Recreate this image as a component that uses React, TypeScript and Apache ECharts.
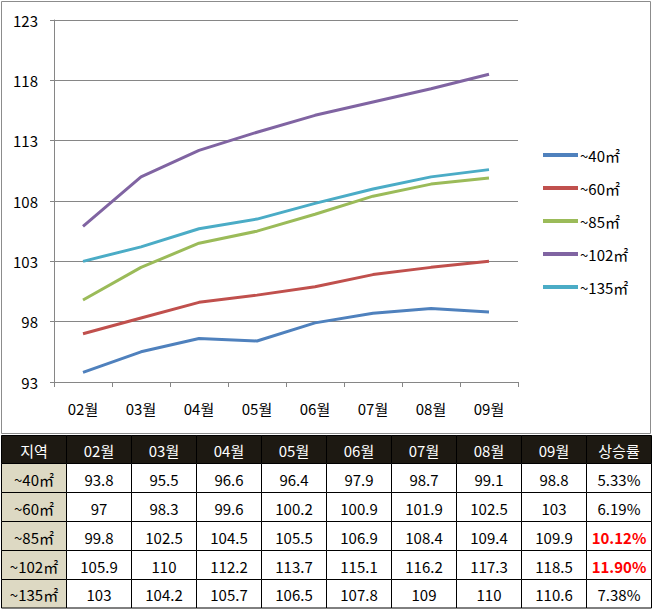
import React, { useEffect, useRef } from "react";
import * as echarts from "echarts";

const months = ["02월", "03월", "04월", "05월", "06월", "07월", "08월", "09월"];
const seriesNames = ["~40㎡", "~60㎡", "~85㎡", "~102㎡", "~135㎡"];
const s40 = [93.8, 95.5, 96.6, 96.4, 97.9, 98.7, 99.1, 98.8];
const s60 = [97, 98.3, 99.6, 100.2, 100.9, 101.9, 102.5, 103];
const s85 = [99.8, 102.5, 104.5, 105.5, 106.9, 108.4, 109.4, 109.9];
const s102 = [105.9, 110, 112.2, 113.7, 115.1, 116.2, 117.3, 118.5];
const s135 = [103, 104.2, 105.7, 106.5, 107.8, 109, 110, 110.6];
const rates = ["5.33%", "6.19%", "10.12%", "11.90%", "7.38%"];
const highlighted = [false, false, true, true, false];
const headerFirst = "지역";
const headerLast = "상승률";
const colors = ["#4F81BD", "#C0504D", "#9BBB59", "#8064A2", "#4BACC6"];

const FONT = "'Noto Sans CJK KR', 'Noto Sans', sans-serif";

function buildTable(): any[] {
  const allSeries = [s40, s60, s85, s102, s135];
  const colX = [1.5, 66.5, 131.5, 196.5, 261.5, 326.5, 391.5, 456.5, 521.5, 586.5, 651.5];
  const rowY = [435.5, 463.5, 492.5, 521.5, 550.5, 579.5, 608];
  const els: any[] = [];
  const header = [headerFirst, ...months, headerLast];
  for (let c = 0; c < header.length; c++) {
    const x = colX[c];
    const w = colX[c + 1] - colX[c];
    const y = rowY[0];
    const h = rowY[1] - rowY[0];
    els.push({
      type: "rect",
      shape: { x, y, width: w, height: h },
      style: { fill: "#1D1912", stroke: "#000", lineWidth: 1 },
      z: 10,
    });
    els.push({
      type: "text",
      x: x + w / 2,
      y: y + h / 2 + 1,
      style: {
        text: header[c],
        fill: "#FFFFFF",
        font: `15px ${FONT}`,
        align: "center",
        verticalAlign: "middle",
      },
      z: 11,
    });
  }
  for (let r = 0; r < allSeries.length; r++) {
    const y = rowY[r + 1];
    const h = rowY[r + 2] - rowY[r + 1];
    const cells = [seriesNames[r], ...allSeries[r].map((v) => String(v)), rates[r]];
    for (let c = 0; c < cells.length; c++) {
      const x = colX[c];
      const w = colX[c + 1] - colX[c];
      els.push({
        type: "rect",
        shape: { x, y, width: w, height: h },
        style: { fill: c === 0 ? "#DDD9C3" : "#FFFFFF", stroke: "#000", lineWidth: 1 },
        z: 10,
      });
      const isRate = c === cells.length - 1;
      const red = isRate && highlighted[r];
      els.push({
        type: "text",
        x: x + w / 2,
        y: y + h / 2 + 1,
        style: {
          text: cells[c],
          fill: red ? "#FF0000" : "#000000",
          font: `${red ? "bold " : ""}15px ${FONT}`,
          align: "center",
          verticalAlign: "middle",
        },
        z: 11,
      });
    }
  }
  return els;
}

export default function App() {
  const ref = useRef<HTMLDivElement>(null);
  useEffect(() => {
    document.body.style.margin = "0";
    if (!ref.current) return;
    const chart = echarts.init(ref.current, undefined, { renderer: "svg" });
    const allSeries = [s40, s60, s85, s102, s135];
    chart.setOption({
      animation: false,
      backgroundColor: "#FFFFFF",
      textStyle: { fontFamily: FONT },
      grid: { left: 54, top: 20, width: 464, height: 362, containLabel: false },
      legend: {
        orient: "vertical",
        left: 538,
        top: 139,
        itemWidth: 35,
        itemHeight: 4,
        itemGap: 11,
        icon: "rect",
        data: seriesNames,
        textStyle: { fontSize: 15, color: "#000", fontFamily: FONT, lineHeight: 20, padding: [2, 0, 0, -3] },
      },
      xAxis: {
        type: "category",
        data: months,
        boundaryGap: true,
        axisLine: { lineStyle: { color: "#868686", width: 1 } },
        axisTick: { show: true, length: 5, lineStyle: { color: "#868686" } },
        axisLabel: { fontSize: 15, color: "#000", margin: 19, fontFamily: FONT },
        splitLine: { show: false },
      },
      yAxis: {
        type: "value",
        min: 93,
        max: 123,
        interval: 5,
        axisLine: { show: true, lineStyle: { color: "#868686", width: 1 } },
        axisTick: { show: true, length: 4, lineStyle: { color: "#868686" } },
        axisLabel: { fontSize: 15, color: "#000", margin: 16, fontFamily: FONT },
        splitLine: { show: true, lineStyle: { color: "#868686", width: 1 } },
      },
      series: allSeries.map((d, i) => ({
        name: seriesNames[i],
        type: "line",
        data: d,
        symbol: "none",
        smooth: false,
        lineStyle: { width: 3, color: colors[i] },
        itemStyle: { color: colors[i] },
      })),
      graphic: [
        {
          type: "rect",
          shape: { x: 1.5, y: 1.5, width: 649, height: 432 },
          style: { fill: "none", stroke: "#8C8C8C", lineWidth: 1 },
          z: -1,
          silent: true,
        },
        ...buildTable(),
      ],
    });
    return () => chart.dispose();
  }, []);
  return (
    <div
      ref={ref}
      style={{ position: "absolute", left: 0, top: 0, width: 654, height: 609 }}
    />
  );
}
